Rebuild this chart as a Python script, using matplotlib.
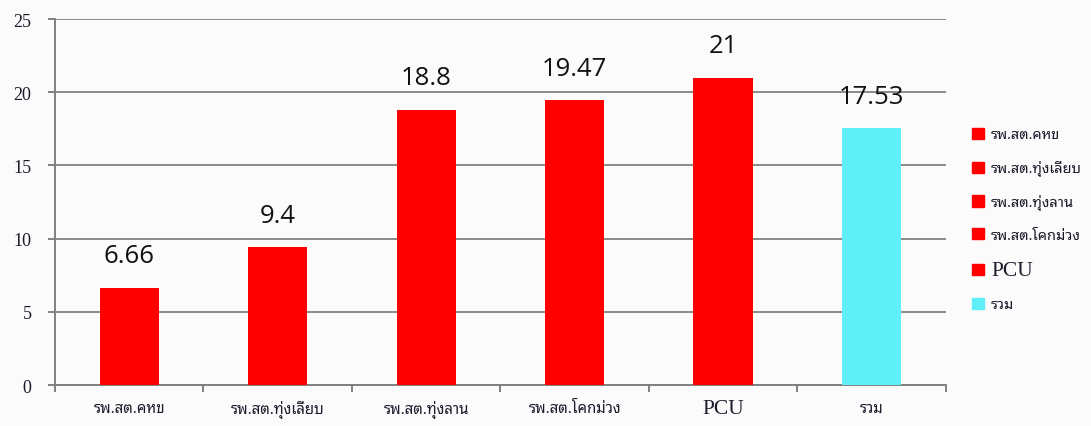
import matplotlib
matplotlib.use("Agg")
import matplotlib.pyplot as plt
import numpy as np

categories = ["รพ.สต.คหข", "รพ.สต.ทุ่งเลียบ", "รพ.สต.ทุ่งลาน", "รพ.สต.โคกม่วง", "PCU", "รวม"]
values = [6.66, 9.4, 18.8, 19.47, 21, 17.53]
value_labels = ["6.66", "9.4", "18.8", "19.47", "21", "17.53"]
colors = ["#ff0000", "#ff0000", "#ff0000", "#ff0000", "#ff0000", "#5eeff7"]
yticks = [0, 5, 10, 15, 20, 25]
ytick_labels = ["0", "5", "10", "15", "20", "25"]

thai_font = ["Noto Sans Thai Looped", "Loma", "DejaVu Sans"]
serif_font = ["Liberation Serif", "DejaVu Serif"]
num_font = ["Open Sans", "DejaVu Sans"]

fig = plt.figure(figsize=(10.91, 4.27), dpi=100, facecolor="#fbfbfb")
ax = fig.add_axes([0.0504, 0.096, 0.8166, 0.857])
ax.set_facecolor("#fbfbfb")

x = np.arange(len(categories))
ax.bar(x, values, width=0.40, color=colors, zorder=3)

ax.set_xlim(-0.5, len(categories) - 0.5)
ax.set_ylim(0, 25)

ax.set_yticks(yticks)
ax.set_yticklabels(ytick_labels, family=serif_font, fontsize=13, color="#1a1a2a")
ax.yaxis.grid(True, color="#8a8a8a", linewidth=1.4, zorder=0)
ax.set_axisbelow(True)
for s in ["top", "right"]:
    ax.spines[s].set_visible(False)
for s in ["left", "bottom"]:
    ax.spines[s].set_color("#808080")
    ax.spines[s].set_linewidth(1.4)

ax.tick_params(axis="y", length=5, width=1.4, color="#808080", pad=12)

# x ticks: boundaries as minor ticks, labels at centres
ax.set_xticks(np.arange(len(categories) + 1) - 0.5, minor=True)
ax.set_xticks(x)
ax.set_xticklabels(categories)
ax.tick_params(axis="x", which="major", length=0, pad=17)
ax.tick_params(axis="x", which="minor", length=5, width=1.4, color="#808080")
for lab, cat in zip(ax.get_xticklabels(), categories):
    if cat == "PCU":
        lab.set_family(serif_font)
        lab.set_fontsize(15.5)
    else:
        lab.set_family(thai_font)
        lab.set_fontsize(10.8)
        lab.set_weight("medium")
    lab.set_va("center")
    lab.set_color("#1a1a2a")

# value labels
for xi, v, t in zip(x, values, value_labels):
    ax.annotate(t, (xi, v), xytext=(0, 14), textcoords="offset points",
                ha="center", va="bottom", fontsize=18.5, family=num_font,
                color="#111111")

# legend
handles = [plt.Rectangle((0, 0), 1, 1, color=c) for c in colors]
leg = fig.legend(handles, categories, loc="upper left",
                 bbox_to_anchor=(0.879, 0.73), frameon=False,
                 handlelength=0.8, handleheight=0.8, handletextpad=0.5,
                 labelspacing=1.22, fontsize=10.5)
for t, cat in zip(leg.get_texts(), categories):
    if cat == "PCU":
        t.set_family(serif_font)
        t.set_fontsize(15.5)
    else:
        t.set_family(thai_font)
        t.set_weight("medium")
    t.set_color("#1a1a2a")

fig.savefig("out.png", dpi=100, facecolor=fig.get_facecolor())
